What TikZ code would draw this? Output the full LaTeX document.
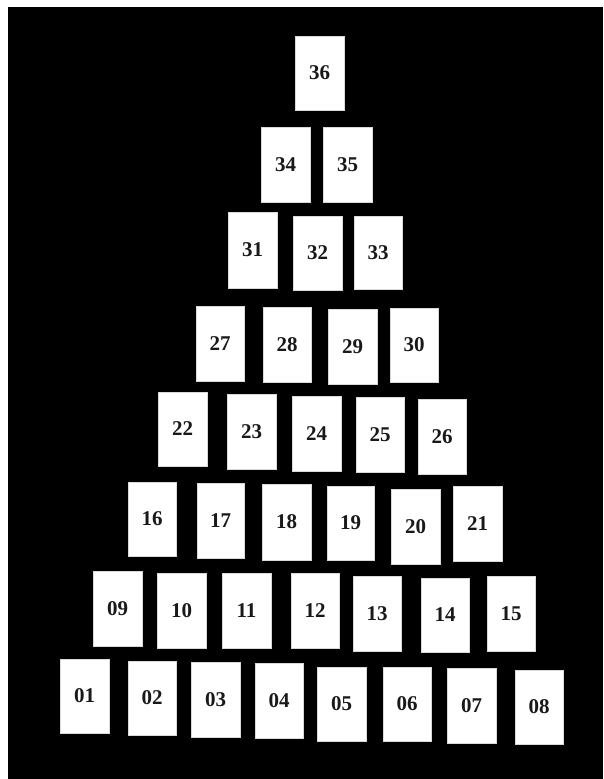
\documentclass[tikz,border=0pt]{standalone}
\usepackage{fontspec}
\setmainfont{Liberation Serif}
\begin{document}
\begin{tikzpicture}[x=1pt,y=-1pt,
  cardbox/.style={fill=white,draw=white!85!black,line width=0.6pt,inner sep=0pt,
    font=\fontsize{21}{21}\selectfont\bfseries,text=black!90}]
\useasboundingbox (0,0) rectangle (603,779);
\fill[white] (0,0) rectangle (603,779);
\fill[black] (8,7) rectangle (603,779);
\foreach \lab/\xa/\ya/\xb/\yb in {
  36/295/36/344/110,
  34/261/127/310/202, 35/323/127/372/202,
  31/228/212/277/288, 32/293/216/342/290, 33/354/216/402/289,
  27/196/306/244/381, 28/263/307/311/382, 29/328/309/377/384, 30/390/308/438/382,
  22/158/392/207/466, 23/227/394/276/469, 24/292/396/341/471, 25/356/397/404/472, 26/418/399/466/474,
  16/128/482/176/556, 17/197/483/244/558, 18/262/484/311/560, 19/327/486/374/560, 20/391/489/440/564, 21/453/486/502/561,
  09/93/571/142/646, 10/157/573/206/648, 11/222/573/271/648, 12/291/573/339/648, 13/353/576/401/651, 14/421/578/469/652, 15/487/576/535/651,
  01/60/659/109/733, 02/128/661/176/735, 03/191/662/240/737, 04/255/663/303/738, 05/317/667/366/741, 06/383/667/431/741, 07/447/668/496/743, 08/515/670/563/744}
{
  \node[cardbox,minimum width={(\xb-\xa)*1pt},minimum height={(\yb-\ya)*1pt}]
    (c\lab) at ({(\xa+\xb)/2},{(\ya+\yb)/2}) {\lab};
}
\end{tikzpicture}
\end{document}
